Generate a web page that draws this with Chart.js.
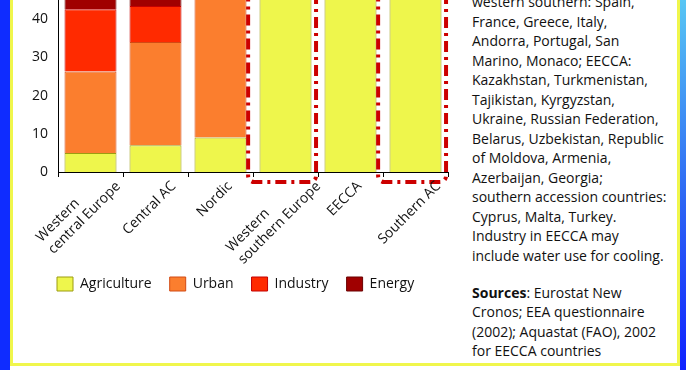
<!DOCTYPE html>
<html lang="en">
<head>
<meta charset="UTF-8">
<title>Water use by sector</title>
<script src="https://cdn.jsdelivr.net/npm/chart.js"></script>
<style>
  html, body { margin: 0; padding: 0; }
  body { width: 686px; height: 370px; position: relative; overflow: hidden; background: #fff; font-family: "Open Sans", sans-serif; }
  .frame { position: absolute; }
  #blueL { left: 0; top: 0; width: 10px; height: 370px; background: #0f2cff; }
  #yelL { left: 10px; top: 0; width: 3px; height: 366px; background: #f0f64c; }
  #yelB { left: 10px; top: 363px; width: 670px; height: 3px; background: #f0f64c; }
  #yelR { left: 677px; top: 0; width: 3px; height: 366px; background: #f0f64c; }
  #blueR { left: 680px; top: 0; width: 6px; height: 370px; background: linear-gradient(#58c6f4, #2c64f4 55%, #0f22ff); }
  #chart { position: absolute; left: 13px; top: 0; }
  #note { position: absolute; left: 472px; top: -8px; width: 205px; font-size: 14px; line-height: 19.5px; color: #111; white-space: nowrap; }
  #note p { margin: 0; }
  #note p + p { margin-top: 17.5px; }
</style>
</head>
<body>
<div class="frame" id="blueL"></div>
<div class="frame" id="yelL"></div>
<div class="frame" id="yelB"></div>
<div class="frame" id="yelR"></div>
<div class="frame" id="blueR"></div>
<canvas id="chart" width="447" height="301"></canvas>
<div id="note">
  <p>western southern: Spain,<br>France, Greece, Italy,<br>Andorra, Portugal, San<br>Marino, Monaco; EECCA:<br>Kazakhstan, Turkmenistan,<br>Tajikistan, Kyrgyzstan,<br>Ukraine, Russian Federation,<br>Belarus, Uzbekistan, Republic<br>of Moldova, Armenia,<br>Azerbaijan, Georgia;<br>southern accession countries:<br>Cyprus, Malta, Turkey.<br>Industry in EECCA may<br>include water use for cooling.</p>
  <p><b>Sources</b>: Eurostat New<br>Cronos; EEA questionnaire<br>(2002); Aquastat (FAO), 2002<br>for EECCA countries</p>
</div>
<script>
// regions (x axis)
const categories = [['Western', 'central Europe'], 'Central AC', 'Nordic', ['Western', 'southern Europe'], 'EECCA', 'Southern AC'];
// water use by sector, % (upper parts are cut off in the picture)
const agriculture = [5, 7, 9, 61, 57, 75];
const urban = [21.3, 27, 52, 14, 12, 16];
const industry = [16.3, 9.4, 31, 10, 20, 6];
const energy = [57.4, 56.6, 8, 15, 11, 3];
const yTicks = [0, 10, 20, 30, 40];
// regions outlined in red
const highlighted = [3, 5];

const FONT = '"Open Sans"';

// draws the rotated category labels, lines left aligned
const xLabels = {
  id: 'xLabels',
  afterDraw(chart) {
    const { ctx, scales: { x, y } } = chart;
    const base = y.getPixelForValue(0);
    ctx.save();
    ctx.font = '14px ' + FONT;
    ctx.fillStyle = '#111';
    ctx.textBaseline = 'middle';
    ctx.textAlign = 'left';
    categories.forEach((cat, i) => {
      const lines = [].concat(cat);
      const w = Math.max(...lines.map(l => ctx.measureText(l).width));
      const cx = x.getPixelForValue(i) - 6;
      const cy = base + 12 + w / 2 * Math.SQRT1_2;
      ctx.save();
      ctx.translate(cx, cy);
      ctx.rotate(-Math.PI / 4);
      lines.forEach((l, k) => ctx.fillText(l, -w / 2, (k - lines.length + 1) * 17));
      ctx.restore();
    });
    ctx.restore();
  }
};

// red dash-dot frames round some bars
const redBoxes = {
  id: 'redBoxes',
  afterDatasetsDraw(chart) {
    const { ctx, scales: { x, y } } = chart;
    const cw = x.width / categories.length;
    const bottom = y.getPixelForValue(0) + 10;
    ctx.save();
    ctx.strokeStyle = '#cc0000';
    ctx.lineWidth = 4;
    ctx.setLineDash([11, 5, 3, 5]);
    highlighted.forEach(i => {
      const c = x.getPixelForValue(i);
      const left = c - 0.575 * cw, right = c + 0.47 * cw;
      ctx.beginPath();
      ctx.roundRect(left, -20, right - left, bottom + 20, 6);
      ctx.stroke();
    });
    ctx.restore();
  }
};

// legend starts under the y axis
const legendShift = {
  id: 'legendShift',
  beforeDraw(chart) {
    const pad = chart.options.plugins.legend.labels.padding;
    const w = chart.legend.right - chart.legend.left;
    chart.legend.left = chart.chartArea.left - pad - 1;
    chart.legend.right = chart.legend.left + w;
  }
};

new Chart(document.getElementById('chart'), {
  type: 'bar',
  data: {
    labels: categories,
    datasets: [
      { label: 'Agriculture', data: agriculture, backgroundColor: '#eef64c', borderColor: '#9c9c10', borderWidth: 1 },
      { label: 'Urban', data: urban, backgroundColor: '#fb7e2e', borderColor: '#d24a14', borderWidth: 1 },
      { label: 'Industry', data: industry, backgroundColor: '#ff2a00', borderColor: '#c40000', borderWidth: 1 },
      { label: 'Energy', data: energy, backgroundColor: '#a00000', borderColor: '#6a0000', borderWidth: 1 }
    ]
  },
  options: {
    responsive: false,
    animation: false,
    layout: { padding: { top: 0, right: 12, bottom: 0, left: 0 } },
    datasets: { bar: { categoryPercentage: 1, barPercentage: 0.8 } },
    scales: {
      x: {
        stacked: true,
        grid: { drawOnChartArea: false, drawTicks: true, tickLength: 5, offset: true, color: '#000' },
        border: { color: '#000', width: 1 },
        ticks: { display: false },
        afterFit(s) { s.height = 87; }
      },
      y: {
        stacked: true,
        min: 0,
        max: 45,
        grid: { display: false, drawTicks: false },
        border: { color: '#000', width: 1 },
        afterBuildTicks(s) { s.ticks = yTicks.map(v => ({ value: v })); },
        ticks: { padding: 10, color: '#111', font: { family: FONT, size: 14 } },
        afterFit(s) { s.width = 45; s.paddingTop = 0; s.paddingBottom = 0; }
      }
    },
    plugins: {
      legend: {
        position: 'bottom',
        align: 'start',
        labels: { boxWidth: 16, boxHeight: 14, padding: 18, color: '#111', font: { family: FONT, size: 14 } }
      },
      tooltip: { enabled: false }
    }
  },
  plugins: [xLabels, redBoxes, legendShift]
});
</script>
</body>
</html>
